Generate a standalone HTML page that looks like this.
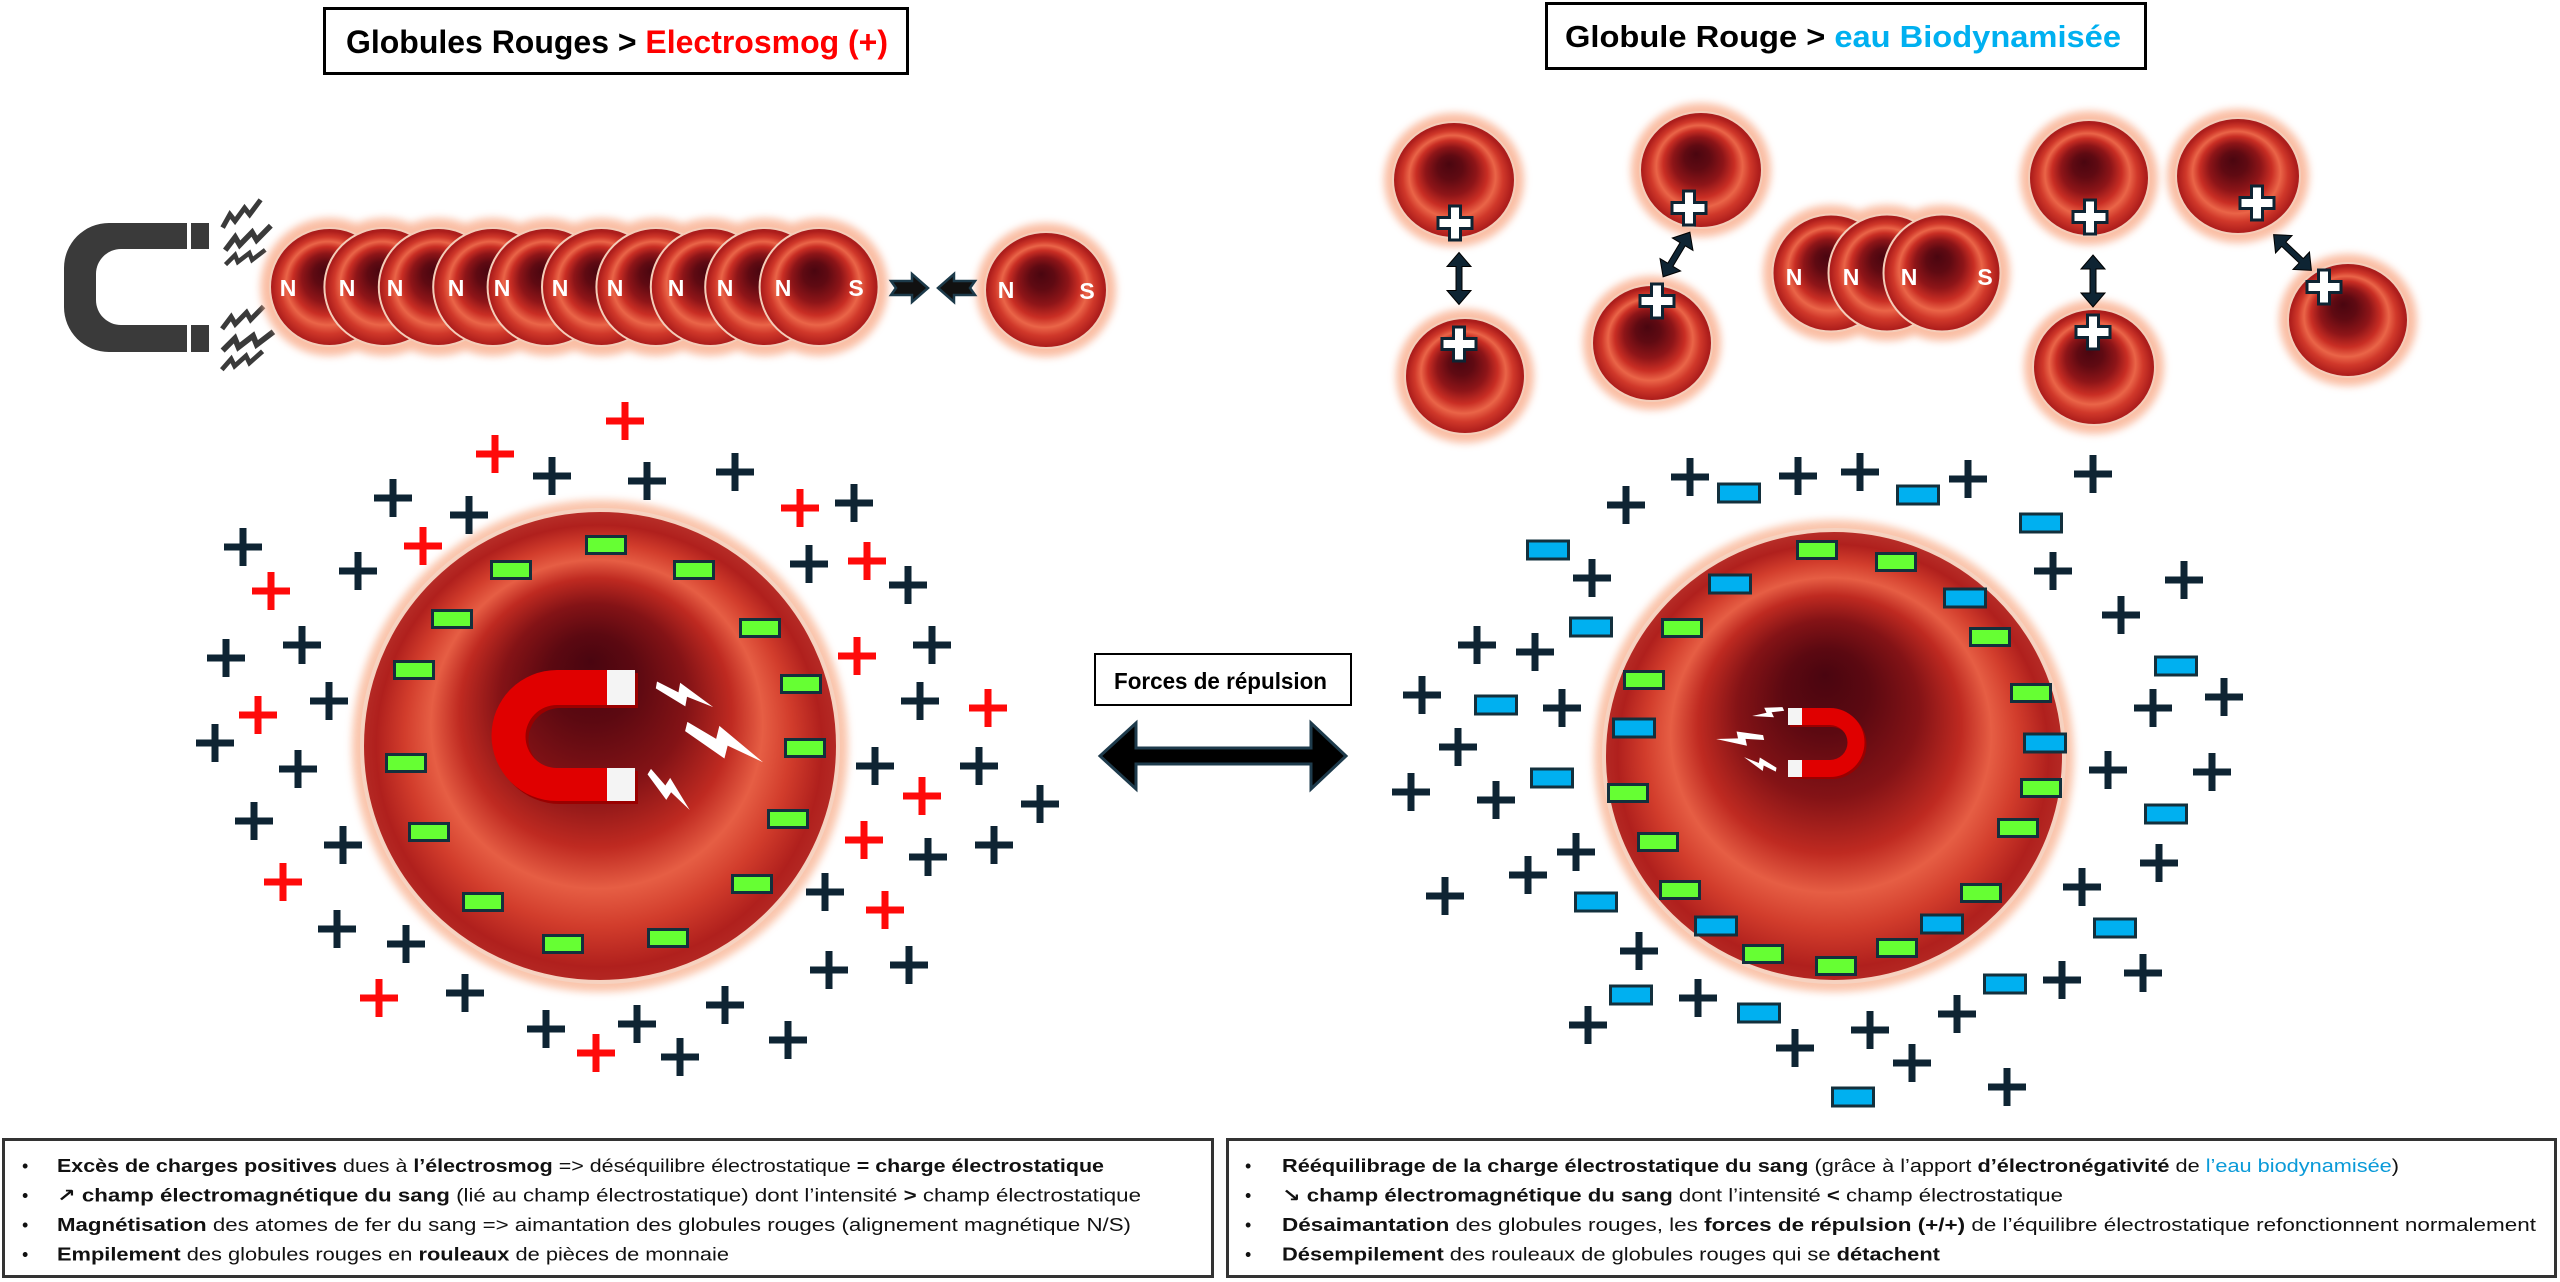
<!DOCTYPE html>
<html><head><meta charset="utf-8"><style>
html,body{margin:0;padding:0;background:#fff;width:2560px;height:1282px;overflow:hidden}
svg{display:block}
text{font-family:"Liberation Sans","DejaVu Sans",sans-serif}
</style></head><body>
<svg width="2560" height="1282" viewBox="0 0 2560 1282" xmlns="http://www.w3.org/2000/svg">
<defs>
<radialGradient id="rbc" cx="0.5" cy="0.52" r="0.52" fx="0.46" fy="0.36">
<stop offset="0" stop-color="#4a0610"/><stop offset="0.2" stop-color="#5f0a12"/><stop offset="0.4" stop-color="#8e1518"/><stop offset="0.56" stop-color="#c92e24"/><stop offset="0.68" stop-color="#ea6548"/><stop offset="0.79" stop-color="#d0382a"/><stop offset="0.92" stop-color="#ae1e1c"/><stop offset="1" stop-color="#a31c1c"/>
</radialGradient>
<radialGradient id="rbcB" cx="0.5" cy="0.52" r="0.52" fx="0.48" fy="0.32">
<stop offset="0" stop-color="#4a0510"/><stop offset="0.18" stop-color="#5c0911"/><stop offset="0.38" stop-color="#841316"/><stop offset="0.55" stop-color="#bf2a21"/><stop offset="0.67" stop-color="#e65e44"/><stop offset="0.78" stop-color="#d23d2c"/><stop offset="0.9" stop-color="#b0201d"/><stop offset="1" stop-color="#b8302a"/>
</radialGradient>
<filter id="blur" x="-30%" y="-30%" width="160%" height="160%"><feGaussianBlur stdDeviation="4"/></filter>
<g id="pd" fill="#0e2433"><rect x="-19" y="-3.5" width="38" height="7"/><rect x="-3.5" y="-19" width="7" height="38"/></g>
<g id="pr" fill="#ff0a0a"><rect x="-19" y="-3.5" width="38" height="7"/><rect x="-3.5" y="-19" width="7" height="38"/></g>
<rect id="mg" x="-19.5" y="-8.5" width="39" height="17" fill="#66ff33" stroke="#13303d" stroke-width="3"/>
<rect id="mb" x="-20.5" y="-9" width="41" height="18" fill="#00b0f0" stroke="#13303d" stroke-width="3"/>
<path id="pw" d="M-5.5,-17H5.5V-5.5H17V5.5H5.5V17H-5.5V5.5H-17V-5.5H-5.5Z" fill="#fff" stroke="#0e2433" stroke-width="3"/>
<polygon id="da" points="-26,0 -12,-12 -12,-3 12,-3 12,-12 26,0 12,12 12,3 -12,3 -12,12" fill="#0e2433" stroke="#000" stroke-width="1"/>
<polygon id="bolt" points="9,0 0,14 7,14 3,26 16,10 9,10 14,0" fill="#fff"/>
<polyline id="zz" points="0,4 12,-5 14,3 28,-5 30,3 46,-6" fill="none" stroke="#3a3a3a" stroke-width="5" stroke-linejoin="miter"/>
</defs>

<!-- Titles -->
<rect x="324.5" y="8.5" width="583" height="65" fill="#fff" stroke="#000" stroke-width="3"/>
<text x="346" y="53" font-size="32" font-weight="bold" textLength="542" lengthAdjust="spacingAndGlyphs" fill="#000">Globules Rouges &gt; <tspan fill="#ff0000">Electrosmog (+)</tspan></text>
<rect x="1546.5" y="3.5" width="599" height="65" fill="#fff" stroke="#000" stroke-width="3"/>
<text x="1565" y="47" font-size="31" font-weight="bold" textLength="556" lengthAdjust="spacingAndGlyphs" fill="#000">Globule Rouge &gt; <tspan fill="#00b0f0">eau Biodynamisée</tspan></text>

<!-- Top-left magnet -->
<path fill="#3a3a3a" fill-rule="evenodd" d="M187,223 H109 A45,45 0 0 0 64,268 V307 A45,45 0 0 0 109,352 H187 V325 H121 A25,25 0 0 1 96,300 V274 A25,25 0 0 1 121,249 H187 Z"/>
<rect x="191" y="223" width="18" height="26" fill="#3a3a3a"/>
<rect x="191" y="325" width="18" height="27" fill="#3a3a3a"/>
<use href="#zz" transform="translate(221,224) rotate(-24)"/>
<use href="#zz" transform="translate(224,246) rotate(-16) scale(1.1)"/>
<use href="#zz" transform="translate(225,261) rotate(-8) scale(0.9)"/>
<use href="#zz" transform="translate(221,325) rotate(-16)"/>
<use href="#zz" transform="translate(222,346) rotate(-8) scale(1.15)"/>
<use href="#zz" transform="translate(221,366) rotate(-12) scale(0.95)"/>

<!-- Row of stacked cells -->
<g filter="url(#blur)" fill="#f9b394" opacity="0.85">
<ellipse cx="329.5" cy="287" rx="69" ry="69"/><ellipse cx="383.9" cy="287" rx="69" ry="69"/><ellipse cx="438.3" cy="287" rx="69" ry="69"/><ellipse cx="492.7" cy="287" rx="69" ry="69"/><ellipse cx="547.1" cy="287" rx="69" ry="69"/><ellipse cx="601.5" cy="287" rx="69" ry="69"/><ellipse cx="655.9" cy="287" rx="69" ry="69"/><ellipse cx="710.3" cy="287" rx="69" ry="69"/><ellipse cx="764.7" cy="287" rx="69" ry="69"/><ellipse cx="819.1" cy="287" rx="69" ry="69"/>
<ellipse cx="1046" cy="290" rx="70" ry="67"/>
</g>
<g fill="url(#rbc)" stroke="#f4cdb9" stroke-width="2">
<ellipse cx="329.5" cy="287" rx="59.5" ry="59"/><ellipse cx="383.9" cy="287" rx="59.5" ry="59"/><ellipse cx="438.3" cy="287" rx="59.5" ry="59"/><ellipse cx="492.7" cy="287" rx="59.5" ry="59"/><ellipse cx="547.1" cy="287" rx="59.5" ry="59"/><ellipse cx="601.5" cy="287" rx="59.5" ry="59"/><ellipse cx="655.9" cy="287" rx="59.5" ry="59"/><ellipse cx="710.3" cy="287" rx="59.5" ry="59"/><ellipse cx="764.7" cy="287" rx="59.5" ry="59"/><ellipse cx="819.1" cy="287" rx="59.5" ry="59"/>
<ellipse cx="1046" cy="290" rx="61" ry="58"/>
</g>
<g fill="#fff" font-size="23" font-weight="bold" text-anchor="middle">
<text x="288" y="296">N</text><text x="347" y="296">N</text><text x="395" y="296">N</text><text x="456" y="296">N</text><text x="502" y="296">N</text><text x="560" y="296">N</text><text x="615" y="296">N</text><text x="676" y="296">N</text><text x="725" y="296">N</text><text x="783" y="296">N</text><text x="856" y="296">S</text>
<text x="1006" y="298">N</text><text x="1087" y="299">S</text>
</g>
<polygon points="891,281 912,281 912,274 928,288 912,302 912,295 891,295 896,288" fill="#111" stroke="#1c3a4a" stroke-width="2.5"/>
<polygon points="975,281 954,281 954,274 938,288 954,302 954,295 975,295 970,288" fill="#111" stroke="#1c3a4a" stroke-width="2.5"/>

<!-- Top-right cells -->
<g filter="url(#blur)" fill="#f9b394" opacity="0.85">
<ellipse cx="1454" cy="180" rx="70" ry="67"/><ellipse cx="1465" cy="376" rx="69" ry="67"/><ellipse cx="1701" cy="170" rx="70" ry="67"/><ellipse cx="1652" cy="343" rx="69" ry="67"/>
<ellipse cx="1831" cy="273" rx="68" ry="68"/><ellipse cx="1887" cy="273" rx="68" ry="68"/><ellipse cx="1942" cy="273" rx="68" ry="68"/>
<ellipse cx="2089" cy="178" rx="69" ry="67"/><ellipse cx="2094" cy="367" rx="70" ry="67"/><ellipse cx="2238" cy="176" rx="71" ry="67"/><ellipse cx="2348" cy="320" rx="69" ry="66"/>
</g>
<g fill="url(#rbc)" stroke="#f4cdb9" stroke-width="2">
<ellipse cx="1454" cy="180" rx="61" ry="58"/><ellipse cx="1465" cy="376" rx="60" ry="58"/><ellipse cx="1701" cy="170" rx="61" ry="58"/><ellipse cx="1652" cy="343" rx="60" ry="58"/>
<ellipse cx="1831" cy="273" rx="58.5" ry="58.5"/><ellipse cx="1887" cy="273" rx="58.5" ry="58.5"/><ellipse cx="1942" cy="273" rx="58.5" ry="58.5"/>
<ellipse cx="2089" cy="178" rx="60" ry="58"/><ellipse cx="2094" cy="367" rx="61" ry="58"/><ellipse cx="2238" cy="176" rx="62" ry="58"/><ellipse cx="2348" cy="320" rx="60" ry="57"/>
</g>
<g fill="#fff" font-size="23" font-weight="bold" text-anchor="middle">
<text x="1794" y="285">N</text><text x="1851" y="285">N</text><text x="1909" y="285">N</text><text x="1985" y="285">S</text>
</g>
<use href="#pw" x="1455" y="223"/><use href="#pw" x="1459" y="344"/><use href="#pw" x="1689" y="208"/><use href="#pw" x="1657" y="301"/>
<use href="#pw" x="2090" y="217"/><use href="#pw" x="2093" y="332"/><use href="#pw" x="2257" y="203"/><use href="#pw" x="2324" y="287"/>
<use href="#da" transform="translate(1459,278.5) rotate(90)"/>
<use href="#da" transform="translate(1676.5,254.5) rotate(-59)"/>
<use href="#da" transform="translate(2093,281) rotate(90)"/>
<use href="#da" transform="translate(2292.5,252.5) rotate(43.4)"/>

<!-- Big left cell -->
<ellipse cx="600" cy="746" rx="248" ry="246" fill="#f9bb9e" opacity="0.85" filter="url(#blur)"/>
<ellipse cx="600" cy="746" rx="238" ry="236" fill="url(#rbcB)" stroke="#f6d2c0" stroke-width="4"/>
<path fill="#9a0000" d="M638,673 H560 A65.5,65.5 0 0 0 560,804 H638 V771 H560 A31.5,31.5 0 0 1 560,708 H638 Z"/>
<path fill="#e00000" d="M635,670 H557 A65.5,65.5 0 0 0 557,801 H635 V768 H557 A31.5,31.5 0 0 1 557,705 H635 Z"/>
<rect x="607" y="670" width="28" height="35" fill="#f4f4f4"/>
<rect x="607" y="768" width="28" height="33" fill="#f4f4f4"/>
<use href="#bolt" transform="translate(685,695) rotate(-80) scale(1.4,2.3) translate(-8,-13)"/>
<use href="#bolt" transform="translate(725,743) rotate(-76) scale(1.9,3.2) translate(-8,-13)"/>
<use href="#bolt" transform="translate(670,790) rotate(-58) scale(1.3,2.1) translate(-8,-13)"/>
<g>
<use href="#mg" x="606" y="545"/><use href="#mg" x="511" y="570"/><use href="#mg" x="694" y="570"/><use href="#mg" x="452" y="619"/><use href="#mg" x="760" y="628"/><use href="#mg" x="414" y="670"/><use href="#mg" x="801" y="684"/><use href="#mg" x="805" y="748"/><use href="#mg" x="406" y="763"/><use href="#mg" x="788" y="819"/><use href="#mg" x="429" y="832"/><use href="#mg" x="752" y="884"/><use href="#mg" x="483" y="902"/><use href="#mg" x="668" y="938"/><use href="#mg" x="563" y="944"/>
</g>
<g>
<use href="#pr" x="625" y="421"/><use href="#pr" x="495" y="454"/><use href="#pr" x="800" y="508"/><use href="#pr" x="423" y="546"/><use href="#pr" x="867" y="561"/><use href="#pr" x="271" y="591"/><use href="#pr" x="857" y="656"/><use href="#pr" x="258" y="715"/><use href="#pr" x="988" y="708"/><use href="#pr" x="922" y="796"/><use href="#pr" x="864" y="840"/><use href="#pr" x="283" y="882"/><use href="#pr" x="885" y="910"/><use href="#pr" x="379" y="998"/><use href="#pr" x="596" y="1053"/>
</g>
<g>
<use href="#pd" x="552" y="476"/><use href="#pd" x="647" y="481"/><use href="#pd" x="735" y="472"/><use href="#pd" x="393" y="498"/><use href="#pd" x="469" y="515"/><use href="#pd" x="854" y="503"/><use href="#pd" x="243" y="547"/><use href="#pd" x="358" y="571"/><use href="#pd" x="809" y="564"/><use href="#pd" x="908" y="585"/><use href="#pd" x="302" y="645"/><use href="#pd" x="226" y="658"/><use href="#pd" x="932" y="645"/><use href="#pd" x="329" y="701"/><use href="#pd" x="920" y="701"/><use href="#pd" x="215" y="743"/><use href="#pd" x="298" y="769"/><use href="#pd" x="875" y="766"/><use href="#pd" x="979" y="766"/><use href="#pd" x="1040" y="804"/><use href="#pd" x="254" y="821"/><use href="#pd" x="928" y="857"/><use href="#pd" x="994" y="845"/><use href="#pd" x="343" y="845"/><use href="#pd" x="825" y="892"/><use href="#pd" x="337" y="929"/><use href="#pd" x="406" y="944"/><use href="#pd" x="829" y="970"/><use href="#pd" x="909" y="965"/><use href="#pd" x="465" y="993"/><use href="#pd" x="725" y="1005"/><use href="#pd" x="546" y="1029"/><use href="#pd" x="637" y="1024"/><use href="#pd" x="788" y="1040"/><use href="#pd" x="680" y="1057"/>
</g>

<!-- Center: forces de répulsion -->
<rect x="1095" y="654" width="256" height="51" fill="#fff" stroke="#000" stroke-width="2"/>
<text x="1114" y="689" font-size="23" font-weight="bold" textLength="213" lengthAdjust="spacingAndGlyphs" fill="#000">Forces de répulsion</text>
<polygon points="1100,756 1136,723 1136,748 1311,748 1311,723 1346,756 1311,789 1311,764 1136,764 1136,789" fill="#000" stroke="#1e3b4c" stroke-width="3" stroke-linejoin="miter"/>

<!-- Big right cell -->
<ellipse cx="1834" cy="756" rx="240" ry="236" fill="#f9bb9e" opacity="0.85" filter="url(#blur)"/>
<ellipse cx="1834" cy="756" rx="230" ry="226" fill="url(#rbcB)" stroke="#f6d2c0" stroke-width="4"/>
<path fill="#9a0000" d="M1790,710 H1832 A34.5,34.5 0 0 1 1832,779 H1790 V762 H1832 A17.5,17.5 0 0 0 1832,727 H1790 Z"/>
<path fill="#e00000" d="M1788,708 H1830 A34.5,34.5 0 0 1 1830,777 H1788 V760 H1830 A17.5,17.5 0 0 0 1830,725 H1788 Z"/>
<rect x="1788" y="708" width="14" height="17" fill="#f4f4f4"/>
<rect x="1788" y="760" width="14" height="17" fill="#f4f4f4"/>
<use href="#bolt" transform="translate(1768,713) rotate(65) scale(0.8,1.2) translate(-8,-13)"/>
<use href="#bolt" transform="translate(1740,739) rotate(78) scale(1.0,1.8) translate(-8,-13)"/>
<use href="#bolt" transform="translate(1760,764) rotate(100) scale(0.8,1.3) translate(-8,-13)"/>
<g>
<use href="#mg" x="1817" y="550"/><use href="#mg" x="1896" y="562"/><use href="#mg" x="1682" y="628"/><use href="#mg" x="1990" y="637"/><use href="#mg" x="1644" y="680"/><use href="#mg" x="2031" y="693"/><use href="#mg" x="2041" y="788"/><use href="#mg" x="1628" y="793"/><use href="#mg" x="2018" y="828"/><use href="#mg" x="1658" y="842"/><use href="#mg" x="1680" y="890"/><use href="#mg" x="1981" y="893"/><use href="#mg" x="1897" y="948"/><use href="#mg" x="1763" y="954"/><use href="#mg" x="1836" y="966"/>
</g>
<g>
<use href="#mb" x="1739" y="493"/><use href="#mb" x="1918" y="495"/><use href="#mb" x="2041" y="523"/><use href="#mb" x="1548" y="550"/><use href="#mb" x="1730" y="584"/><use href="#mb" x="1965" y="598"/><use href="#mb" x="1591" y="627"/><use href="#mb" x="2176" y="666"/><use href="#mb" x="1496" y="705"/><use href="#mb" x="1634" y="728"/><use href="#mb" x="2045" y="743"/><use href="#mb" x="1552" y="778"/><use href="#mb" x="2166" y="814"/><use href="#mb" x="1596" y="902"/><use href="#mb" x="1716" y="926"/><use href="#mb" x="1942" y="924"/><use href="#mb" x="2115" y="928"/><use href="#mb" x="2005" y="984"/><use href="#mb" x="1631" y="995"/><use href="#mb" x="1759" y="1013"/><use href="#mb" x="1853" y="1097"/>
</g>
<g>
<use href="#pd" x="1690" y="477"/><use href="#pd" x="1798" y="476"/><use href="#pd" x="1860" y="472"/><use href="#pd" x="1968" y="479"/><use href="#pd" x="2093" y="474"/><use href="#pd" x="1626" y="505"/><use href="#pd" x="1592" y="578"/><use href="#pd" x="2053" y="571"/><use href="#pd" x="2184" y="580"/><use href="#pd" x="2121" y="615"/><use href="#pd" x="1477" y="645"/><use href="#pd" x="1535" y="652"/><use href="#pd" x="1422" y="695"/><use href="#pd" x="1562" y="708"/><use href="#pd" x="2153" y="708"/><use href="#pd" x="2224" y="697"/><use href="#pd" x="1458" y="747"/><use href="#pd" x="1411" y="792"/><use href="#pd" x="1496" y="800"/><use href="#pd" x="2108" y="770"/><use href="#pd" x="2212" y="772"/><use href="#pd" x="1576" y="852"/><use href="#pd" x="1528" y="875"/><use href="#pd" x="1445" y="896"/><use href="#pd" x="2159" y="863"/><use href="#pd" x="2082" y="887"/><use href="#pd" x="1639" y="951"/><use href="#pd" x="1698" y="998"/><use href="#pd" x="1588" y="1025"/><use href="#pd" x="2062" y="980"/><use href="#pd" x="2143" y="973"/><use href="#pd" x="1957" y="1014"/><use href="#pd" x="1870" y="1030"/><use href="#pd" x="1795" y="1048"/><use href="#pd" x="1912" y="1063"/><use href="#pd" x="2007" y="1087"/>
</g>

<!-- Bottom boxes -->
<rect x="3.5" y="1139.5" width="1209" height="137" fill="#fff" stroke="#333" stroke-width="3"/>
<rect x="1227.5" y="1139.5" width="1328" height="137" fill="#fff" stroke="#333" stroke-width="3"/>
<g font-size="18" fill="#111">
<text x="22" y="1172">•</text><text x="22" y="1201.5">•</text><text x="22" y="1231">•</text><text x="22" y="1260.5">•</text>
<text x="1245" y="1172">•</text><text x="1245" y="1201.5">•</text><text x="1245" y="1231">•</text><text x="1245" y="1260.5">•</text>
<text x="57" y="1172" textLength="1047" lengthAdjust="spacingAndGlyphs"><tspan font-weight="bold">Excès de charges positives</tspan> dues à <tspan font-weight="bold">l’électrosmog</tspan> =&gt; déséquilibre électrostatique <tspan font-weight="bold">= charge électrostatique</tspan></text>
<text x="57" y="1201.5" textLength="1084" lengthAdjust="spacingAndGlyphs"><tspan font-weight="bold">↗ champ électromagnétique du sang</tspan> (lié au champ électrostatique) dont l’intensité <tspan font-weight="bold">&gt;</tspan> champ électrostatique</text>
<text x="57" y="1231" textLength="1074" lengthAdjust="spacingAndGlyphs"><tspan font-weight="bold">Magnétisation</tspan> des atomes de fer du sang =&gt; aimantation des globules rouges (alignement magnétique N/S)</text>
<text x="57" y="1260.5" textLength="672" lengthAdjust="spacingAndGlyphs"><tspan font-weight="bold">Empilement</tspan> des globules rouges en <tspan font-weight="bold">rouleaux</tspan> de pièces de monnaie</text>
<text x="1282" y="1172" textLength="1117" lengthAdjust="spacingAndGlyphs"><tspan font-weight="bold">Rééquilibrage de la charge électrostatique du sang</tspan> (grâce à l’apport <tspan font-weight="bold">d’électronégativité</tspan> de <tspan fill="#0a9ad8">l’eau biodynamisée</tspan>)</text>
<text x="1282" y="1201.5" textLength="781" lengthAdjust="spacingAndGlyphs"><tspan font-weight="bold">↘ champ électromagnétique du sang</tspan> dont l’intensité <tspan font-weight="bold">&lt;</tspan> champ électrostatique</text>
<text x="1282" y="1231" textLength="1254" lengthAdjust="spacingAndGlyphs"><tspan font-weight="bold">Désaimantation</tspan> des globules rouges, les <tspan font-weight="bold">forces de répulsion (+/+)</tspan> de l’équilibre électrostatique refonctionnent normalement</text>
<text x="1282" y="1260.5" textLength="658" lengthAdjust="spacingAndGlyphs"><tspan font-weight="bold">Désempilement</tspan> des rouleaux de globules rouges qui se <tspan font-weight="bold">détachent</tspan></text>
</g>
</svg>
</body></html>
